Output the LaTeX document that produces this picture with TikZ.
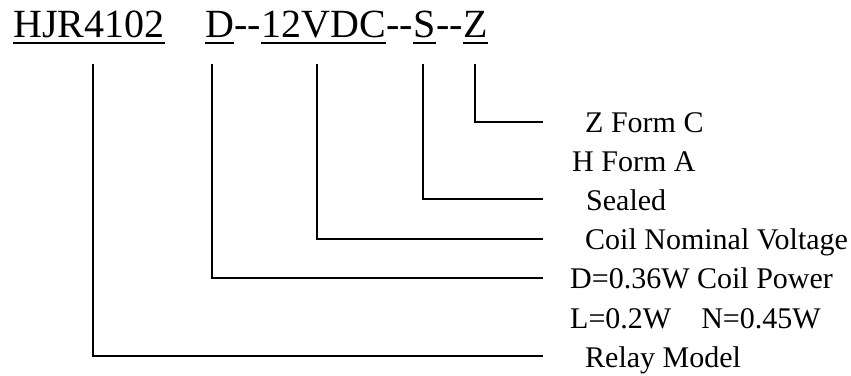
\documentclass[tikz,border=0pt]{standalone}
\usepackage{fontspec}
\setmainfont{Liberation Serif}
\begin{document}
\begin{tikzpicture}[x=1pt,y=-1pt,
  title/.style={anchor=base west,inner sep=0pt,font=\fontsize{40}{44}\selectfont},
  lbl/.style={anchor=base west,inner sep=0pt,font=\fontsize{30}{33}\selectfont},
  ul/.style={line width=1.4pt},
  conn/.style={line width=1.4pt,line cap=rect}]
\useasboundingbox (0,0) rectangle (851,375);
% title parts
\node[title] (hjr) at (13,37) {HJR4102};
\node[title] (d) at (205,37) {D};
\node[title] (dash1) at (d.base east) {-{}-};
\node[title] (v) at (dash1.base east) {12VDC};
\node[title] (dash2) at (v.base east) {-{}-};
\node[title] (s) at (dash2.base east) {S};
\node[title] (dash3) at (s.base east) {-{}-};
\node[title] (z) at (dash3.base east) {Z};
\foreach \n in {hjr,d,v,s,z}
  \draw[ul] ([yshift=-6pt]\n.base west) -- ([yshift=-6pt]\n.base east);
% labels
\node[lbl] (lz) at (585,132) {Z Form C};
\node[lbl] (lh) at (572,171) {H Form A};
\node[lbl] (ls) at (586,210) {Sealed};
\node[lbl] (lc) at (585,249) {Coil Nominal Voltage};
\node[lbl] (ld) at (570,288) {D=0.36W Coil Power};
\node[lbl] (ll) at (570,328) {L=0.2W\hspace{30pt}N=0.45W};
\node[lbl] (lr) at (585,367) {Relay Model};
% connector coordinates
\coordinate (thjr) at (93,65);
\coordinate (td) at (212,65);
\coordinate (tv) at (317,65);
\coordinate (ts) at (423,65);
\coordinate (tz) at (475,65);
\coordinate (ez) at (542,122);
\coordinate (es) at (542,199);
\coordinate (ev) at (542,239);
\coordinate (ed) at (542,278);
\coordinate (ehjr) at (542,356);
\draw[conn] (tz) |- (ez);
\draw[conn] (ts) |- (es);
\draw[conn] (tv) |- (ev);
\draw[conn] (td) |- (ed);
\draw[conn] (thjr) |- (ehjr);
\end{tikzpicture}
\end{document}
